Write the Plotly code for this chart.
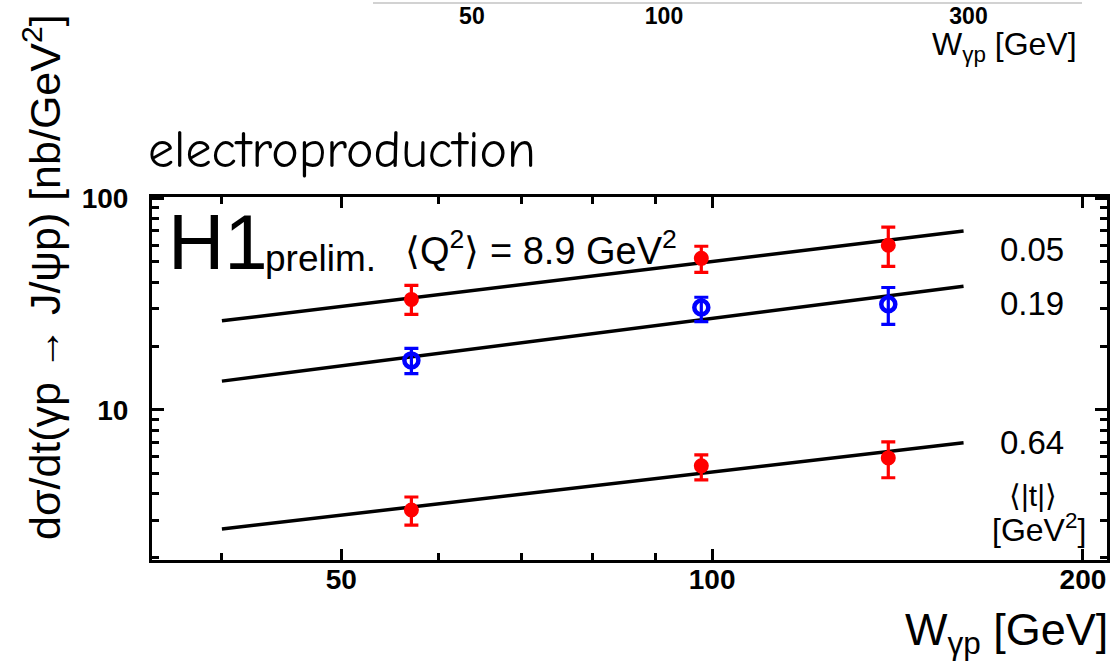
import numpy as np
import plotly.graph_objects as go

W_PX, H_PX = 1119, 665

# ---- data -------------------------------------------------------------
w_points = [57, 98, 139]                      # W_gamma-p [GeV]

# <|t|> = 0.05 GeV^2 (filled red)
xs_t005 = [33.2, 51.9, 59.8]
xs_t005_up = [38.7, 59.2, 72.9]
xs_t005_lo = [28.2, 44.6, 47.6]

# <|t|> = 0.19 GeV^2 (open blue)
xs_t019 = [17.1, 30.4, 31.5]
xs_t019_up = [19.5, 34.0, 37.8]
xs_t019_lo = [14.8, 26.1, 25.3]

# <|t|> = 0.64 GeV^2 (filled red)
xs_t064 = [3.36, 5.43, 5.92]
xs_t064_up = [3.87, 6.12, 7.05]
xs_t064_lo = [2.85, 4.66, 4.77]

# power-law fits, evaluated at the ends of the fitted W range
fit_w = [40, 160]
fit_t005 = [26.3, 69.8]
fit_t019 = [13.65, 38.3]
fit_t064 = [2.73, 6.98]

t_labels = ["0.05", "0.19", "0.64"]

x_ticks = [50, 100, 200]
x_minor = [40, 60, 70, 80, 90]
y_ticks = [10, 100]
y_minor = [2, 3, 4, 5, 6, 7, 8, 9, 20, 30, 40, 50, 60, 70, 80, 90]
top_ticks = [50, 100, 300]


def px(x):
    return x / W_PX


def py(y):
    return 1 - y / H_PX


def err(vals, up, lo):
    return (list(np.array(up) - np.array(vals)),
            list(np.array(vals) - np.array(lo)))


fig = go.Figure()

for fv in (fit_t005, fit_t019, fit_t064):
    fig.add_trace(go.Scatter(x=fit_w, y=fv, mode="lines",
                             line=dict(color="black", width=3.5),
                             showlegend=False, hoverinfo="skip"))

for vals, up, lo, colour, sym in (
        (xs_t005, xs_t005_up, xs_t005_lo, "#ff0000", "circle"),
        (xs_t019, xs_t019_up, xs_t019_lo, "#0000ff", "circle-open"),
        (xs_t064, xs_t064_up, xs_t064_lo, "#ff0000", "circle")):
    e_up, e_lo = err(vals, up, lo)
    fig.add_trace(go.Scatter(
        x=w_points, y=vals, mode="markers",
        marker=dict(symbol=sym, size=13 if sym == "circle" else 14,
                    color=colour,
                    line=dict(color=colour, width=2 if sym == "circle" else 4.5)),
        error_y=dict(type="data", symmetric=False, array=e_up,
                     arrayminus=e_lo, color=colour, thickness=3.2, width=7),
        showlegend=False))

# upper panel's axis (only its bottom edge is visible)
fig.add_trace(go.Scatter(x=[], y=[], xaxis="x2", yaxis="y2",
                         showlegend=False))

tick_font = dict(family="Liberation Sans, Arial, sans-serif", size=28,
                 color="black", weight="bold")

fig.update_layout(
    width=W_PX, height=H_PX,
    margin=dict(l=0, r=0, t=0, b=0, pad=0, autoexpand=False),
    paper_bgcolor="white", plot_bgcolor="white",
    xaxis=dict(
        type="log", domain=[px(152), px(1107)], automargin=False,
        range=[np.log10(35.1), np.log10(209.2)],
        tickvals=x_ticks, ticktext=[str(v) for v in x_ticks],
        ticks="inside", ticklen=11, tickwidth=3, tickcolor="black",
        minor=dict(tickvals=x_minor, ticks="inside", ticklen=7,
                   tickwidth=2.5, tickcolor="black"),
        showline=True, linecolor="black", linewidth=3, mirror="allticks",
        showgrid=False, zeroline=False, tickfont=tick_font,
        ticklabelstandoff=-8,
    ),
    yaxis=dict(
        type="log", domain=[py(560), py(197)], automargin=False,
        range=[0.29, 2.005],
        tickvals=y_ticks, ticktext=[str(v) for v in y_ticks],
        ticks="inside", ticklen=12, tickwidth=3, tickcolor="black",
        minor=dict(tickvals=y_minor, ticks="inside", ticklen=7,
                   tickwidth=2.5, tickcolor="black"),
        showline=True, linecolor="black", linewidth=3, mirror="allticks",
        showgrid=False, zeroline=False, tickfont=tick_font,
        ticklabelstandoff=15,
    ),
    xaxis2=dict(
        type="log", domain=[px(373), px(1082)], anchor="y2", side="bottom",
        automargin=False, range=[1.544, 2.655],
        tickvals=top_ticks, ticktext=[str(v) for v in top_ticks],
        ticks="", showline=True, linecolor="#d2d2d2", linewidth=2,
        showgrid=False, zeroline=False,
        tickfont=dict(family="Liberation Sans, Arial, sans-serif", size=23,
                      color="black", weight="bold"),
        ticklabelstandoff=-8,
    ),
    yaxis2=dict(domain=[py(2), 1], anchor="x2", visible=False,
                automargin=False, showgrid=False, zeroline=False),
)

sans = "Liberation Sans, Arial, Helvetica, sans-serif"


def note(text, x, y, size, xanchor="left", yanchor="middle", family=sans,
         angle=0):
    fig.add_annotation(text=text, x=px(x), y=py(y), xref="paper",
                       yref="paper", xanchor=xanchor, yanchor=yanchor,
                       showarrow=False, textangle=angle,
                       font=dict(family=family, size=size, color="black"))


note("electroproduction", 146, 150, 52,
     family="Comic Sans MS, Comic Neue, DejaVu Sans, sans-serif")
note("H1", 166, 242, 78)
note("prelim.", 263, 258, 37)
note("⟨Q<sup>2</sup>⟩ = 8.9 GeV<sup>2</sup>", 403, 248, 38)

for lab, yc in zip(t_labels, (249, 303, 442)):
    note(lab, 998, yc, 33)

note("⟨|t|⟩", 1033, 495, 30, xanchor="center")
note("[GeV<sup>2</sup>]", 1088, 528, 32, xanchor="right")

note("W<sub>γp</sub> [GeV]", 1110, 632, 45, xanchor="right")
note("W<sub>γp</sub> [GeV]", 1079, 46, 32, xanchor="right")

note("dσ/dt(γp → J/ψp) [nb/GeV<sup>2</sup>]", 42, 277, 43,
     xanchor="center", angle=-90)

fig.write_html("out.html")
